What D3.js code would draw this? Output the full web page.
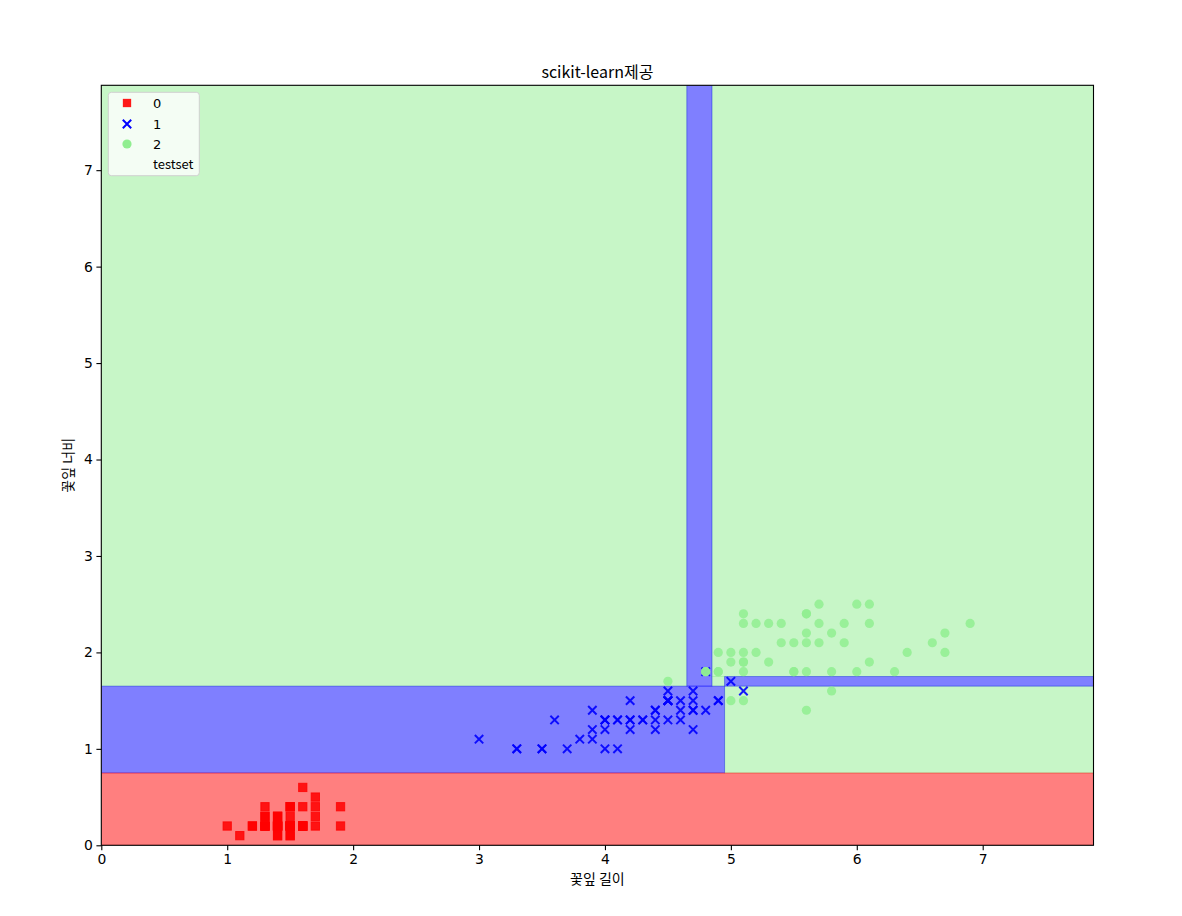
<!DOCTYPE html>
<html><head><meta charset="utf-8">
<script src="https://cdn.jsdelivr.net/npm/d3@7"></script>
<style>
body{margin:0;background:#fff;}
svg{display:block;}
text{font-family:"Noto Sans CJK KR","Noto Sans","DejaVu Sans",sans-serif;fill:#000;}
</style></head>
<body><svg id="c" width="1182" height="916"></svg>
<script>
// class labels and legend
const classes = ["0", "1", "2"];
const legendLabels = ["0", "1", "2", "testset"];
const xTicks = [0,1,2,3,4,5,6,7];
const yTicks = [0,1,2,3,4,5,6,7];
const domainMax = 7.88;

// petal length / petal width per class (iris)
const class0 = [[1.4,0.2],[1.4,0.2],[1.3,0.2],[1.5,0.2],[1.4,0.2],[1.7,0.4],[1.4,0.3],[1.5,0.2],[1.4,0.2],[1.5,0.1],
[1.5,0.2],[1.6,0.2],[1.4,0.1],[1.1,0.1],[1.2,0.2],[1.5,0.4],[1.3,0.4],[1.4,0.3],[1.7,0.3],[1.5,0.3],
[1.7,0.2],[1.5,0.4],[1.0,0.2],[1.7,0.5],[1.9,0.2],[1.6,0.2],[1.6,0.4],[1.5,0.2],[1.4,0.2],[1.6,0.2],
[1.6,0.2],[1.5,0.4],[1.5,0.1],[1.4,0.2],[1.5,0.2],[1.2,0.2],[1.3,0.2],[1.4,0.1],[1.3,0.2],[1.5,0.2],
[1.3,0.3],[1.3,0.3],[1.3,0.2],[1.6,0.6],[1.9,0.4],[1.4,0.3],[1.6,0.2],[1.4,0.2],[1.5,0.2],[1.4,0.2]];
const class1 = [[4.7,1.4],[4.5,1.5],[4.9,1.5],[4.0,1.3],[4.6,1.5],[4.5,1.3],[4.7,1.6],[3.3,1.0],[4.6,1.3],[3.9,1.4],
[3.5,1.0],[4.2,1.5],[4.0,1.0],[4.7,1.4],[3.6,1.3],[4.4,1.4],[4.5,1.5],[4.1,1.0],[4.5,1.5],[3.9,1.1],
[4.8,1.8],[4.0,1.3],[4.9,1.5],[4.7,1.2],[4.3,1.3],[4.4,1.4],[4.8,1.4],[5.0,1.7],[4.5,1.5],[3.5,1.0],
[3.8,1.1],[3.7,1.0],[3.9,1.2],[5.1,1.6],[4.5,1.5],[4.5,1.6],[4.7,1.5],[4.4,1.3],[4.1,1.3],[4.0,1.3],
[4.4,1.2],[4.6,1.4],[4.0,1.2],[3.3,1.0],[4.2,1.3],[4.2,1.2],[4.2,1.3],[4.3,1.3],[3.0,1.1],[4.1,1.3]];
const class2 = [[6.0,2.5],[5.1,1.9],[5.9,2.1],[5.6,1.8],[5.8,2.2],[6.6,2.1],[4.5,1.7],[6.3,1.8],[5.8,1.8],[6.1,2.5],
[5.1,2.0],[5.3,1.9],[5.5,2.1],[5.0,2.0],[5.1,2.4],[5.3,2.3],[5.5,1.8],[6.7,2.2],[6.9,2.3],[5.0,1.5],
[5.7,2.3],[4.9,2.0],[6.7,2.0],[4.9,1.8],[5.7,2.1],[6.0,1.8],[4.8,1.8],[4.9,1.8],[5.6,2.1],[5.8,1.6],
[6.1,1.9],[6.4,2.0],[5.6,2.2],[5.1,1.5],[5.6,1.4],[6.1,2.3],[5.6,2.4],[5.5,1.8],[4.8,1.8],[5.4,2.1],
[5.6,2.4],[5.1,2.3],[5.1,1.9],[5.9,2.3],[5.7,2.5],[5.2,2.3],[5.0,1.9],[5.2,2.0],[5.4,2.3],[5.1,1.8]];

// decision regions: [x0, x1, y0, y1, class]
const regions = [
  [4.95, 7.88, 0.75, 1.65, 2],
  [0, 4.65, 1.65, 7.88, 2],
  [4.85, 7.88, 1.75, 7.88, 2],
  [4.85, 4.95, 1.65, 1.75, 2],
  [0, 4.95, 0.75, 1.65, 1],
  [4.65, 4.85, 1.65, 7.88, 1],
  [4.95, 7.88, 1.65, 1.75, 1],
  [0, 7.88, 0, 0.75, 0]
];
const colors = ["red", "blue", "lightgreen"];

const svg = d3.select("#c");
const mLeft = 101.3, mRight = 1093.5, mTop = 85.3, mBottom = 845.3;
const x = d3.scaleLinear().domain([0, domainMax]).range([mLeft, mRight]);
const y = d3.scaleLinear().domain([0, domainMax]).range([mBottom, mTop]);

const plot = svg.append("g");
plot.append("defs").append("clipPath").attr("id","clip").append("rect")
  .attr("x", mLeft).attr("y", mTop).attr("width", mRight-mLeft).attr("height", mBottom-mTop);
const g = plot.append("g").attr("clip-path","url(#clip)");

g.selectAll("rect.reg").data(regions).join("rect").attr("class","reg")
  .attr("x", d => x(d[0])).attr("y", d => y(d[3]))
  .attr("width", d => x(d[1]) - x(d[0])).attr("height", d => y(d[2]) - y(d[3]))
  .attr("fill", d => colors[d[4]]).attr("fill-opacity", 0.5)
  .attr("stroke", d => colors[d[4]]).attr("stroke-opacity", 0.35).attr("stroke-width", 1);

// points
const sq = 8.3;
g.selectAll("rect.p0").data(class0).join("rect").attr("class","p0")
  .attr("x", d => x(d[0]) - sq/2).attr("y", d => y(d[1]) - sq/2)
  .attr("width", sq).attr("height", sq).attr("fill", "red").attr("fill-opacity", 0.85)
  .attr("stroke","red").attr("stroke-opacity",0.8).attr("stroke-width",1);
const xs = 4.2;
const xg = g.selectAll("g.p1").data(class1).join("g").attr("class","p1")
  .attr("transform", d => `translate(${x(d[0])},${y(d[1])})`);
xg.append("path").attr("d", `M${-xs},${-xs}L${xs},${xs}M${-xs},${xs}L${xs},${-xs}`)
  .attr("stroke","blue").attr("stroke-width",2).attr("stroke-opacity",0.9).attr("fill","none");
g.selectAll("circle.p2").data(class2).join("circle").attr("class","p2")
  .attr("cx", d => x(d[0])).attr("cy", d => y(d[1])).attr("r", 4.6)
  .attr("fill","lightgreen").attr("fill-opacity",0.85);

// axes
const xAxis = d3.axisBottom(x).tickValues(xTicks).tickFormat(d3.format("d")).tickSizeOuter(0).tickSize(4.9).tickPadding(3.5);
const yAxis = d3.axisLeft(y).tickValues(yTicks).tickFormat(d3.format("d")).tickSizeOuter(0).tickSize(4.9).tickPadding(3.5);
const gx = svg.append("g").attr("transform", `translate(0,${mBottom})`).call(xAxis);
const gy = svg.append("g").attr("transform", `translate(${mLeft},0)`).call(yAxis);
[gx, gy].forEach(a => {
  a.select(".domain").remove();
  a.selectAll("text").style("font-size","13.9px").style("font-family","'DejaVu Sans',sans-serif");
  a.selectAll("line").attr("stroke","#000").attr("stroke-width",1.1);
});
svg.append("rect").attr("x", mLeft).attr("y", mTop).attr("width", mRight-mLeft).attr("height", mBottom-mTop)
  .attr("fill","none").attr("stroke","#000").attr("stroke-width",1.1);

// labels
svg.append("text").attr("x", (mLeft+mRight)/2).attr("y", 78).attr("text-anchor","middle")
  .style("font-size","16px").text("scikit-learn제공");
svg.append("text").attr("x", (mLeft+mRight)/2).attr("y", 884).attr("text-anchor","middle")
  .style("font-size","14px").text("꽃잎 길이");
svg.append("text").attr("transform", `translate(73,${(mTop+mBottom)/2}) rotate(-90)`).attr("text-anchor","middle")
  .style("font-size","14px").text("꽃잎 너비");

// legend
const lg = svg.append("g");
lg.append("rect").attr("x",108.3).attr("y",92.3).attr("width",91).attr("height",83.4).attr("rx",3)
  .attr("fill","#fff").attr("fill-opacity",0.8).attr("stroke","#d0d0d0").attr("stroke-width",1);
const rowY = [103, 124, 144, 164];
const mx = 127;
lg.append("rect").attr("x", mx - sq/2).attr("y", rowY[0] - sq/2).attr("width", sq).attr("height", sq)
  .attr("fill","red").attr("fill-opacity",0.9);
lg.append("path").attr("d", `M${mx-xs},${rowY[1]-xs}L${mx+xs},${rowY[1]+xs}M${mx-xs},${rowY[1]+xs}L${mx+xs},${rowY[1]-xs}`)
  .attr("stroke","blue").attr("stroke-width",2);
lg.append("circle").attr("cx", mx).attr("cy", rowY[2]).attr("r",4.6).attr("fill","lightgreen");
lg.selectAll("text").data(legendLabels).join("text")
  .attr("x", 153).attr("y", (d,i) => rowY[i] + 5).style("font-size","13px")
  .style("font-family", (d,i) => i < 3 ? "'DejaVu Sans',sans-serif" : "'Noto Sans CJK KR',sans-serif")
  .text(d => d);
</script></body></html>
